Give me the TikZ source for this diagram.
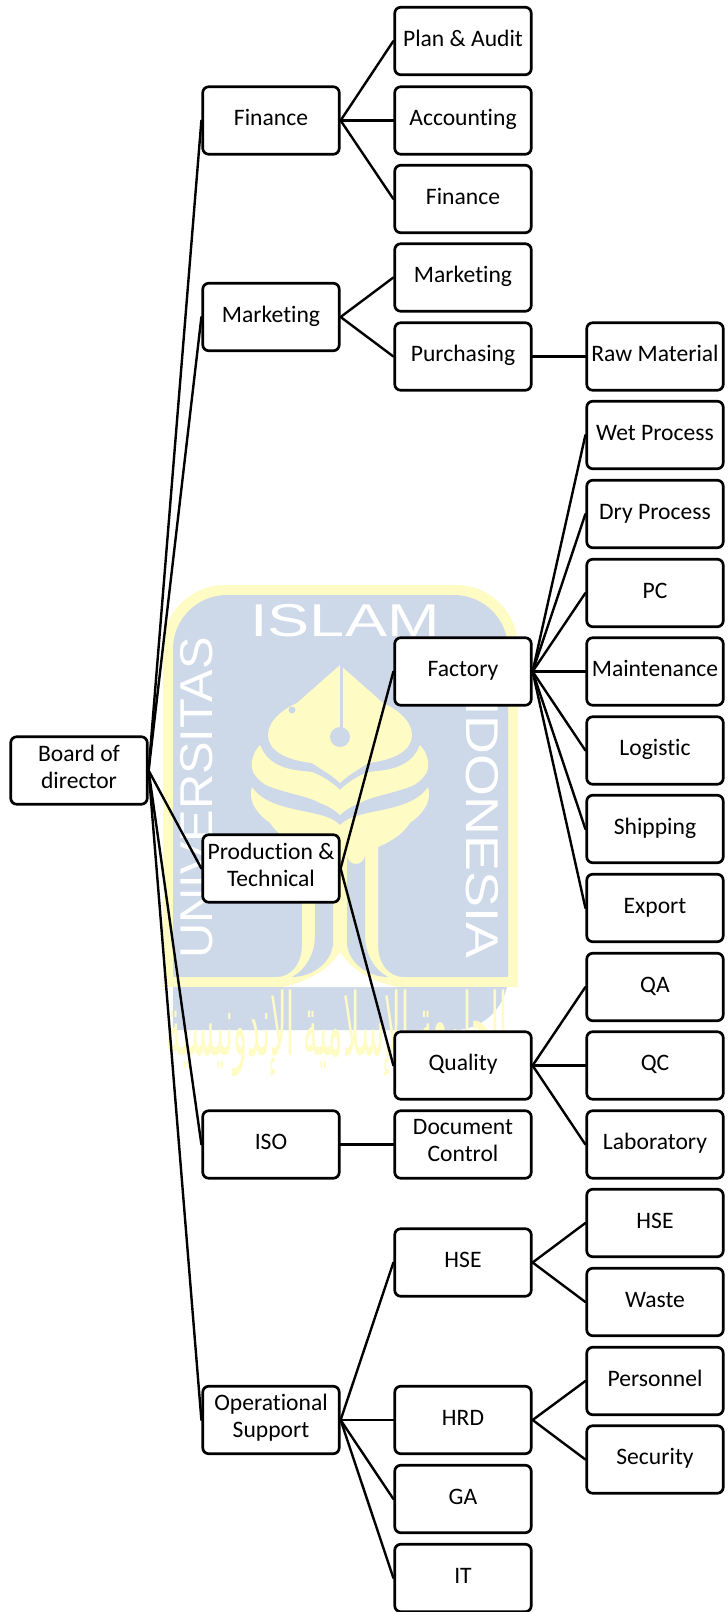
\documentclass[tikz,border=0pt]{standalone}
\usepackage{fontspec}
\setmainfont[Ligatures=NoCommon]{Carlito}
\newfontfamily\logofont{Liberation Sans}
\newfontfamily\arabicfont[Script=Arabic]{DejaVu Sans}
\TeXXeTstate=1
\definecolor{logoBlue}{HTML}{CDD9E9}
\definecolor{logoYellow}{HTML}{FFFBC4}
\tikzset{
  orgBox/.style={draw=black,fill=white,rounded corners=6pt,line width=2.7pt,align=center,
        minimum width=136.5pt,minimum height=67.5pt,inner sep=0pt,
        font=\fontsize{23.6}{27}\selectfont,
        execute at begin node=\strut,execute at end node=\strut},
  link/.style={line width=2.4pt,line cap=round},
  logoText/.style={text=white,inner sep=0pt,transform shape,
        font=\logofont\fontsize{46}{50}\selectfont},
  logoHalf/.pic={
    \fill[logoYellow] (0,665) -- (43,703) .. controls (55,708) and (72,720) .. (72,735)
      .. controls (72,750) and (55,760) .. (28,763) .. controls (18,770) and (8,775) .. (0,783) -- cycle;
    \fill[logoYellow] (0,790) .. controls (8,782) and (18,776) .. (28,772)
      .. controls (45,770) and (70,770) .. (80,745) .. controls (90,755) and (90,770) .. (85,775)
      .. controls (78,785) and (70,787) .. (60,790) .. controls (45,795) and (30,797) .. (20,803)
      .. controls (12,806) and (5,810) .. (0,815) -- cycle;
    \fill[logoYellow] (0,825) .. controls (5,820) and (12,817) .. (20,815)
      .. controls (35,810) and (75,808) .. (88,787) .. controls (92,800) and (85,812) .. (70,823)
      .. controls (62,835) and (50,842) .. (38,847) -- (38,977) -- (0,977) -- cycle;
    \fill[logoYellow] (38,945) .. controls (38,965) and (50,977) .. (63,977) -- (38,977) -- cycle;
    \fill[logoBlue] (7,855) arc[start angle=180,end angle=0,radius=9] -- (25,935)
      .. controls (25,955) and (35,970) .. (48,977) .. controls (30,977) and (10,965) .. (7,945) -- cycle;
    \fill[white] (0,952) .. controls (8,965) and (25,980) .. (57,987) -- (0,987) -- cycle;
    \fill[logoBlue] (-3,664) rectangle (0,735);
  },
}
\begin{document}
\begin{tikzpicture}[x=1pt,y=-1pt]
\useasboundingbox (0,0) rectangle (728,1612);
\fill[logoYellow,rounded corners=62pt] (163,1040) -- (163,585) -- (518,585) -- (518,1040) [sharp corners] -- cycle;
\fill[white] (150,987) rectangle (530,1050);
\fill[logoBlue,rounded corners=54pt] (173,1030) -- (173,595) -- (508,595) -- (508,1030) [sharp corners] -- cycle;
\fill[logoYellow] (163,977) rectangle (518,987);
\pic at (340,0) {logoHalf};
\pic[xscale=-1] at (340,0) {logoHalf};
\fill[logoBlue] (340,737) circle (10);
\fill[logoBlue] (292,710) circle (3.5);
\node[logoText,xscale=1.37] (islam) at (345,621) {ISLAM};
\node[logoText,rotate=90,xscale=1.06] (univ) at (197,798) {UNIVERSITAS};
\node[logoText,rotate=-90,xscale=1.17] (indo) at (482,810) {INDONESIA};
\node[text=logoYellow,inner sep=0pt,transform shape,xscale=1.2,yscale=3.6,
  font=\arabicfont\fontsize{24}{28}\selectfont] (jamiah) at (337,1033)
  {\beginR الجامعة الإسلامية الإندونيسية\endR};

\node[orgBox] (bod)   at (79,770.5)   {Board of\\director};
\node[orgBox] (fin)   at (271,120.5)  {Finance};
\node[orgBox] (mkt)   at (271,317)    {Marketing};
\node[orgBox] (prod)  at (271,868.5)  {Production \&\\Technical};
\node[orgBox] (iso)   at (271,1144.5) {ISO};
\node[orgBox] (ops)   at (271,1420)   {Operational\\Support};
\node[orgBox] (plan)  at (463,41)     {Plan \& Audit};
\node[orgBox] (acc)   at (463,120.5)  {Accounting};
\node[orgBox] (fina)  at (463,199)    {Finance};
\node[orgBox] (mkta)  at (463,277.5)  {Marketing};
\node[orgBox] (pur)   at (463,356.5)  {Purchasing};
\node[orgBox] (fac)   at (463,671.5)  {Factory};
\node[orgBox] (qual)  at (463,1065.5) {Quality};
\node[orgBox] (doc)   at (463,1144.5) {Document\\Control};
\node[orgBox] (hse)   at (463,1262.5) {HSE};
\node[orgBox] (hrd)   at (463,1420)   {HRD};
\node[orgBox] (ga)    at (463,1499)   {GA};
\node[orgBox] (it)    at (463,1578)   {IT};
\node[orgBox] (raw)   at (655,356.5)  {Raw Material};
\node[orgBox] (wet)   at (655,435)    {Wet Process};
\node[orgBox] (dry)   at (655,514)    {Dry Process};
\node[orgBox] (pc)    at (655,593)    {PC};
\node[orgBox] (mnt)   at (655,671.5)  {Maintenance};
\node[orgBox] (log)   at (655,750.5)  {Logistic};
\node[orgBox] (ship)  at (655,829)    {Shipping};
\node[orgBox] (exp)   at (655,908)    {Export};
\node[orgBox] (qa)    at (655,987)    {QA};
\node[orgBox] (qc)    at (655,1065.5) {QC};
\node[orgBox] (lab)   at (655,1144.5) {Laboratory};
\node[orgBox] (hsea)  at (655,1223)   {HSE};
\node[orgBox] (waste) at (655,1302)   {Waste};
\node[orgBox] (pers)  at (655,1381)   {Personnel};
\node[orgBox] (sec)   at (655,1459.5) {Security};

\draw[link] (bod.east) -- (fin.west);
\draw[link] (bod.east) -- (mkt.west);
\draw[link] (bod.east) -- (prod.west);
\draw[link] (bod.east) -- (iso.west);
\draw[link] (bod.east) -- (ops.west);
\draw[link] (fin.east) -- (plan.west);
\draw[link] (fin.east) -- (acc.west);
\draw[link] (fin.east) -- (fina.west);
\draw[link] (mkt.east) -- (mkta.west);
\draw[link] (mkt.east) -- (pur.west);
\draw[link] (pur.east) -- (raw.west);
\draw[link] (prod.east) -- (fac.west);
\draw[link] (prod.east) -- (qual.west);
\draw[link] (fac.east) -- (wet.west);
\draw[link] (fac.east) -- (dry.west);
\draw[link] (fac.east) -- (pc.west);
\draw[link] (fac.east) -- (mnt.west);
\draw[link] (fac.east) -- (log.west);
\draw[link] (fac.east) -- (ship.west);
\draw[link] (fac.east) -- (exp.west);
\draw[link] (qual.east) -- (qa.west);
\draw[link] (qual.east) -- (qc.west);
\draw[link] (qual.east) -- (lab.west);
\draw[link] (iso.east) -- (doc.west);
\draw[link] (ops.east) -- (hse.west);
\draw[link] (ops.east) -- (hrd.west);
\draw[link] (ops.east) -- (ga.west);
\draw[link] (ops.east) -- (it.west);
\draw[link] (hse.east) -- (hsea.west);
\draw[link] (hse.east) -- (waste.west);
\draw[link] (hrd.east) -- (pers.west);
\draw[link] (hrd.east) -- (sec.west);
\end{tikzpicture}
\end{document}
